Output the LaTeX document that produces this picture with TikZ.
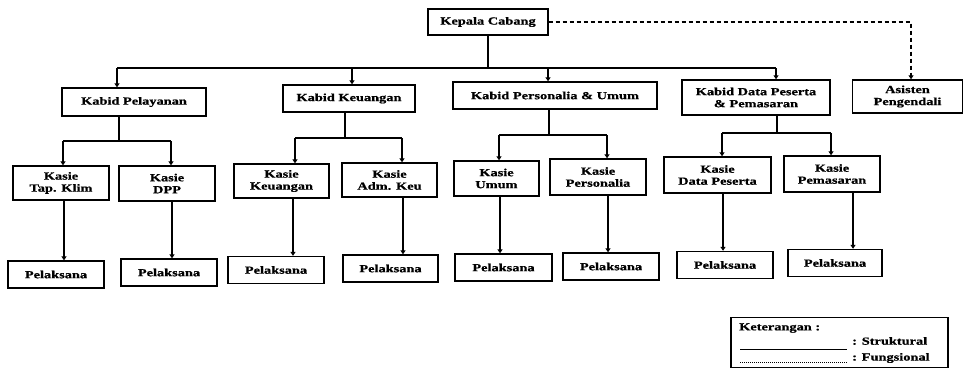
\documentclass[tikz,border=0pt]{standalone}
\usepackage{fontspec}
\newfontfamily\diafont{Liberation Serif}[FakeStretch=1.33,BoldFont={Liberation Serif Bold},BoldFeatures={FakeStretch=1.33,FakeBold=0.8}]
\usetikzlibrary{arrows.meta}
\begin{document}
\begin{tikzpicture}[x=1pt,y=-1pt,
  txt/.style={inner sep=0pt,align=center,font=\diafont\bfseries\fontsize{10.8}{12}\selectfont},
  box/.style={txt,draw,line width=1.4pt},
  sz/.style 2 args={minimum width=#1,minimum height=#2},
  conn/.style={line width=1.2pt},
  arr/.style={conn,-{Triangle[length=4pt,width=5pt]}},
  fdash/.style={line width=1.3pt,dash pattern=on 4pt off 3pt},
]
\fill[white] (0,0) rectangle (965,369);
\useasboundingbox (0,0) rectangle (965,369);

% top level
\node[box,sz={120}{26}] (kc) at (488,22) {Kepala Cabang};
\node[box,sz={110}{33}] (as) at (907.5,96.5) {Asisten\\Pengendali};

% kabid
\node[box,sz={144}{28}] (kp) at (134,102) {Kabid Pelayanan};
\node[box,sz={132}{27}] (kk) at (349,98.5) {Kabid Keuangan};
\node[box,sz={204}{27}] (ku) at (555,95.5) {Kabid Personalia \& Umum};
\node[box,sz={148}{35}] (kd) at (756,97.5) {Kabid Data Peserta\\\& Pemasaran};

% kasie
\node[box,sz={96}{34}] (s1) at (61,183) {Kasie\\Tap. Klim};
\node[box,sz={96}{35}] (s2) at (167,183.5) {Kasie\\DPP};
\node[box,sz={95}{34}] (s3) at (281.5,181) {Kasie\\Keuangan};
\node[box,sz={95}{34}] (s4) at (389.5,180) {Kasie\\Adm. Keu};
\node[box,sz={85}{35}] (s5) at (496.5,178.5) {Kasie\\Umum};
\node[box,sz={96}{36}] (s6) at (598,177) {Kasie\\Personalia};
\node[box,sz={107}{36}] (s7) at (717.5,175) {Kasie\\Data Peserta};
\node[box,sz={96}{36}] (s8) at (832,174) {Kasie\\Pemasaran};

% pelaksana
\node[box,sz={96}{27}] (p1) at (56,274.5) {Pelaksana};
\node[box,sz={96}{27}] (p2) at (169,272.5) {Pelaksana};
\node[box,sz={96}{27}] (p3) at (276,270) {Pelaksana};
\node[box,sz={95}{27}] (p4) at (390.5,268.5) {Pelaksana};
\node[box,sz={97}{27}] (p5) at (503.5,267.5) {Pelaksana};
\node[box,sz={96}{27}] (p6) at (611,266.5) {Pelaksana};
\node[box,sz={96}{27}] (p7) at (725,265) {Pelaksana};
\node[box,sz={94}{27}] (p8) at (835,263) {Pelaksana};

% junction coordinates
\coordinate (bus) at (0,68);
\coordinate (a1) at (117,0);
\coordinate (a2) at (352,0);
\coordinate (a3) at (548,0);
\coordinate (a4) at (776,0);
\coordinate (d1) at (119,141);
\coordinate (d2) at (345,138);
\coordinate (d3) at (549,135);
\coordinate (d4) at (777,133);
\coordinate (e1) at (63,0);
\coordinate (e2) at (171,0);
\coordinate (e3) at (295,0);
\coordinate (e4) at (402,0);
\coordinate (e5) at (499,0);
\coordinate (e6) at (607,0);
\coordinate (e7) at (722,0);
\coordinate (e8) at (831,0);
\coordinate (f1) at (64,0);
\coordinate (f2) at (172,0);
\coordinate (f3) at (293,0);
\coordinate (f4) at (403,0);
\coordinate (f5) at (500,0);
\coordinate (f6) at (608,0);
\coordinate (f7) at (723,0);
\coordinate (f8) at (853,0);
\coordinate (g) at (911,0);

% top bus
\draw[conn] (kc.south) -- (kc.south |- bus);
\draw[conn] (a1 |- bus) -- (a4 |- bus);
\draw[arr] (a1 |- bus) -- (a1 |- kp.north);
\draw[arr] (a2 |- bus) -- (a2 |- kk.north);
\draw[arr] (a3 |- bus) -- (a3 |- ku.north);
\draw[arr] (a4 |- bus) -- (a4 |- kd.north);

% functional link
\draw[fdash,-{Triangle[length=4pt,width=5pt]}] (kc.east) -- (kc.east -| g) -- (g |- as.north);

% second level
\draw[conn] (kp.south -| d1) -- (d1);
\draw[conn] (e1 |- d1) -- (e2 |- d1);
\draw[arr] (e1 |- d1) -- (e1 |- s1.north);
\draw[arr] (e2 |- d1) -- (e2 |- s2.north);

\draw[conn] (kk.south -| d2) -- (d2);
\draw[conn] (e3 |- d2) -- (e4 |- d2);
\draw[arr] (e3 |- d2) -- (e3 |- s3.north);
\draw[arr] (e4 |- d2) -- (e4 |- s4.north);

\draw[conn] (ku.south -| d3) -- (d3);
\draw[conn] (e5 |- d3) -- (e6 |- d3);
\draw[arr] (e5 |- d3) -- (e5 |- s5.north);
\draw[arr] (e6 |- d3) -- (e6 |- s6.north);

\draw[conn] (kd.south -| d4) -- (d4);
\draw[conn] (e7 |- d4) -- (e8 |- d4);
\draw[arr] (e7 |- d4) -- (e7 |- s7.north);
\draw[arr] (e8 |- d4) -- (e8 |- s8.north);

% third level
\draw[arr] (s1.south -| f1) -- (p1.north -| f1);
\draw[arr] (s2.south -| f2) -- (p2.north -| f2);
\draw[arr] (s3.south -| f3) -- (p3.north -| f3);
\draw[arr] (s4.south -| f4) -- (p4.north -| f4);
\draw[arr] (s5.south -| f5) -- (p5.north -| f5);
\draw[arr] (s6.south -| f6) -- (p6.north -| f6);
\draw[arr] (s7.south -| f7) -- (p7.north -| f7);
\draw[arr] (s8.south -| f8) -- (p8.north -| f8);

% legend
\node[draw,line width=1.2pt,inner sep=0pt,sz={217}{50}] (leg) at (839.5,342.5) {};
\node[txt,anchor=west] (ket) at (739,328) {Keterangan :};
\node[txt,anchor=west] (str) at (852,341) {: Struktural};
\node[txt,anchor=west] (fun) at (852,358) {: Fungsional};
\coordinate (la) at (740,349);
\coordinate (lb) at (847,349);
\coordinate (lc) at (740,362);
\coordinate (ld) at (847,362);
\draw[line width=0.9pt] (la) -- (lb);
\draw[line width=0.6pt,dash pattern=on 0.8pt off 1.2pt] (lc) -- (ld);
\end{tikzpicture}
\end{document}
